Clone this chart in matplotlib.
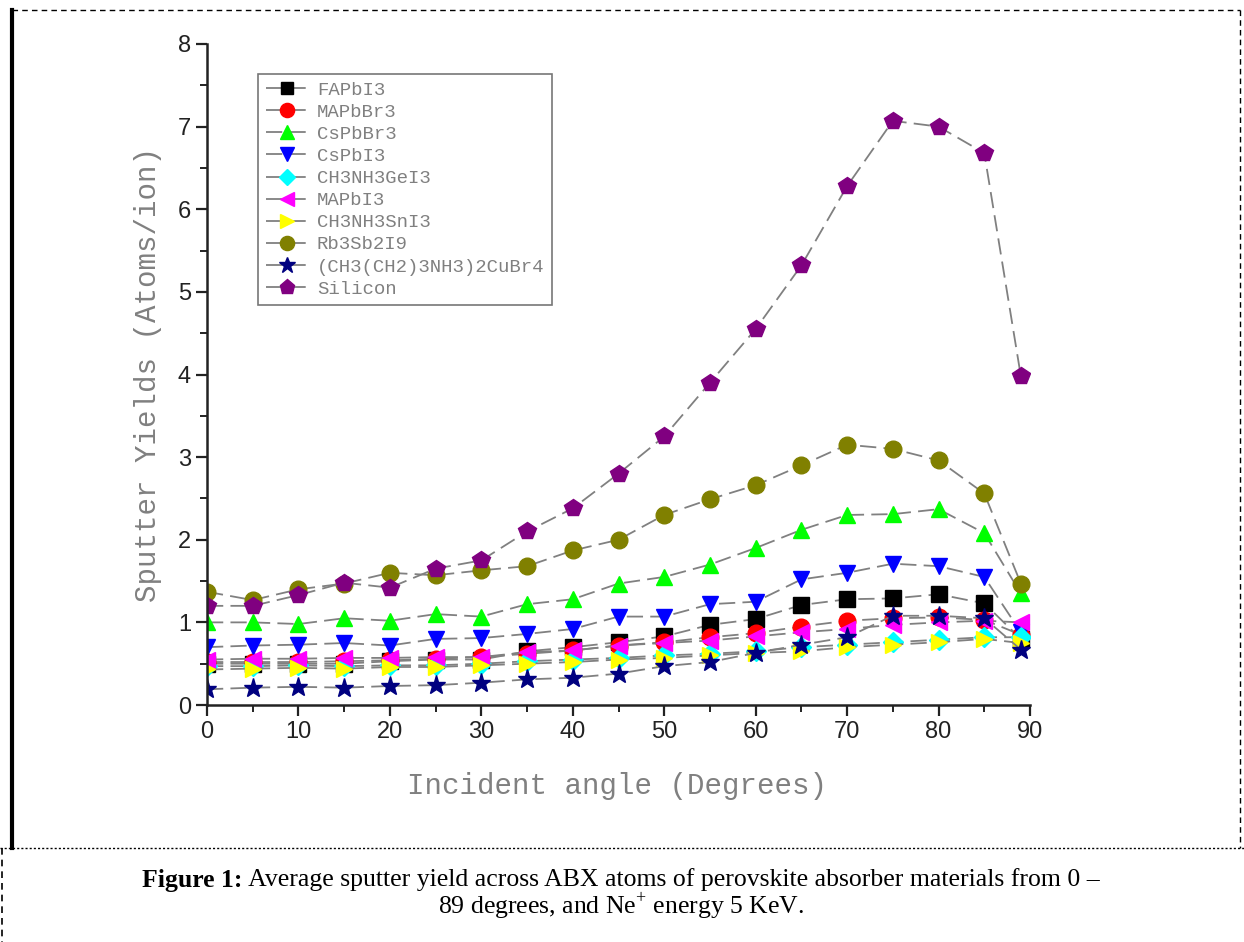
import matplotlib
matplotlib.use("Agg")
import matplotlib.pyplot as plt
from matplotlib.lines import Line2D

angles = [0, 5, 10, 15, 20, 25, 30, 35, 40, 45, 50, 55, 60, 65, 70, 75, 80, 85, 89]

fapbi3 = [0.50, 0.50, 0.50, 0.50, 0.53, 0.55, 0.55, 0.65, 0.70, 0.76, 0.83, 0.97, 1.04, 1.21, 1.28, 1.29, 1.34, 1.23, 0.80]
mapbbr3 = [0.52, 0.52, 0.52, 0.53, 0.54, 0.56, 0.58, 0.62, 0.66, 0.72, 0.76, 0.82, 0.87, 0.95, 1.02, 1.05, 1.06, 1.03, 0.85]
cspbbr3 = [1.00, 1.00, 0.98, 1.05, 1.02, 1.10, 1.07, 1.22, 1.28, 1.47, 1.55, 1.70, 1.90, 2.12, 2.30, 2.31, 2.37, 2.08, 1.35]
cspbi3 = [0.70, 0.72, 0.73, 0.75, 0.72, 0.80, 0.81, 0.86, 0.92, 1.07, 1.07, 1.22, 1.25, 1.52, 1.60, 1.71, 1.68, 1.55, 0.88]
ch3nh3gei3 = [0.47, 0.47, 0.48, 0.47, 0.48, 0.48, 0.50, 0.53, 0.55, 0.57, 0.60, 0.62, 0.65, 0.70, 0.73, 0.76, 0.79, 0.82, 0.82]
mapbi3 = [0.55, 0.56, 0.56, 0.57, 0.57, 0.58, 0.58, 0.64, 0.66, 0.72, 0.75, 0.78, 0.83, 0.88, 0.92, 0.97, 1.00, 1.02, 1.00]
ch3nh3sni3 = [0.43, 0.44, 0.45, 0.44, 0.46, 0.46, 0.48, 0.50, 0.52, 0.55, 0.57, 0.60, 0.63, 0.65, 0.70, 0.73, 0.76, 0.80, 0.75]
rb3sb2i9 = [1.37, 1.27, 1.40, 1.47, 1.60, 1.57, 1.63, 1.68, 1.87, 2.00, 2.30, 2.49, 2.66, 2.90, 3.15, 3.10, 2.96, 2.56, 1.47]
cubr4 = [0.19, 0.21, 0.22, 0.21, 0.23, 0.24, 0.27, 0.31, 0.33, 0.38, 0.47, 0.52, 0.63, 0.73, 0.82, 1.08, 1.08, 1.05, 0.67]
silicon = [1.20, 1.20, 1.33, 1.48, 1.42, 1.65, 1.75, 2.10, 2.38, 2.80, 3.25, 3.90, 4.55, 5.32, 6.28, 7.07, 7.00, 6.68, 3.98]

labels = ["FAPbI3", "MAPbBr3", "CsPbBr3", "CsPbI3", "CH3NH3GeI3", "MAPbI3",
          "CH3NH3SnI3", "Rb3Sb2I9", "(CH3(CH2)3NH3)2CuBr4", "Silicon"]
series = [fapbi3, mapbbr3, cspbbr3, cspbi3, ch3nh3gei3, mapbi3, ch3nh3sni3, rb3sb2i9, cubr4, silicon]
colors = ["#000000", "#ff0000", "#00ff00", "#0000ff", "#00ffff", "#ff00ff",
          "#ffff00", "#808000", "#000080", "#800080"]
markers = ["s", "o", "^", "v", "D", "<", ">", "o", "*", "p"]
msizes = [11, 12, 12, 12, 10, 12, 12, 12, 14, 13]

xticks = [0, 10, 20, 30, 40, 50, 60, 70, 80, 90]
yticks = [0, 1, 2, 3, 4, 5, 6, 7, 8]

caption_bold = "Figure 1:"
caption_rest = " Average sputter yield across ABX atoms of perovskite absorber materials from 0 –"
caption_line2 = r"89 degrees, and Ne$^{+}$ energy 5 KeV."

plt.rcParams['mathtext.fontset'] = 'custom'
plt.rcParams['mathtext.rm'] = 'Liberation Serif'

W, H = 1244, 942
fig = plt.figure(figsize=(W / 100, H / 100), dpi=100)
ax = fig.add_axes([207 / W, 1 - 705 / H, (1030 - 207) / W, (705 - 44) / H])

for vals, lab, col, mk, ms in zip(series, labels, colors, markers, msizes):
    ax.plot(angles, vals, color="#808080", lw=1.3, ls=(0, (9, 4)),
            marker=mk, ms=ms, mfc=col, mec=col, label=lab)

ax.set_xlim(0, 90)
ax.set_ylim(0, 8)
ax.set_xticks(xticks)
ax.set_yticks(yticks)
ax.set_xticks([5, 15, 25, 35, 45, 55, 65, 75, 85], minor=True)
ax.set_yticks([0.5 + i for i in range(8)], minor=True)
ax.spines['top'].set_visible(False)
ax.spines['right'].set_visible(False)
for s in ['left', 'bottom']:
    ax.spines[s].set_linewidth(1.8)
    ax.spines[s].set_color("#222222")
ax.tick_params(which='major', direction='out', length=8, width=1.6, labelsize=17, colors="#222222")
ax.tick_params(which='minor', direction='out', length=5, width=1.4, colors="#222222")
for t in ax.get_xticklabels() + ax.get_yticklabels():
    t.set_fontfamily('Liberation Sans')

ax.set_xlabel("Incident angle (Degrees)", fontfamily='Liberation Mono', fontsize=21, color="#808080")
ax.set_ylabel("Sputter Yields (Atoms/ion)", fontfamily='Liberation Mono', fontsize=21, color="#808080")
ax.xaxis.set_label_coords(0.498, -0.101)
ax.yaxis.set_label_coords(-0.055, 0.5)

leg = ax.legend(loc='upper left', bbox_to_anchor=((258 - 207) / 823, (705 - 74) / 661),
                frameon=True, fancybox=False, prop={'family': 'Liberation Mono', 'size': 13.7},
                handlelength=2.2, handletextpad=0.5, labelspacing=0.25, borderpad=0.4,
                borderaxespad=0, markerscale=0.85)
leg.get_frame().set_edgecolor("#555555")
leg.get_frame().set_linewidth(1.2)
for t in leg.get_texts():
    t.set_color("#808080")

# page frame
def fl(x0, y0, x1, y1, **kw):
    fig.add_artist(Line2D([x0 / W, x1 / W], [1 - y0 / H, 1 - y1 / H], transform=fig.transFigure, **kw))

fl(12, 10, 1240, 10, color='black', lw=1.0, ls=(0, (4, 3)))
fl(12, 10, 12, 848, color='black', lw=3.0)
fl(1240, 10, 1240, 848, color='black', lw=1.0, ls=(0, (4, 3)))
fl(0, 848, 1244, 848, color='black', lw=1.0, ls=(0, (1.5, 1.5)))
fl(2, 848, 2, 942, color='black', lw=1.2, ls=(0, (4, 3)))

# caption line 1: bold prefix + regular rest, centred as a whole
fs = 18.5
renderer = fig.canvas.get_renderer()
tb = fig.text(0, 1 - 880 / H, caption_bold, ha='left', va='center',
              fontfamily='Liberation Serif', fontweight='bold', fontsize=fs)
tr = fig.text(0, 1 - 880 / H, caption_rest, ha='left', va='center',
              fontfamily='Liberation Serif', fontsize=fs)
wb = tb.get_window_extent(renderer).width
wr = tr.get_window_extent(renderer).width
x_start = 621 - (wb + wr) / 2
tb.set_x(x_start / W)
tr.set_x((x_start + wb) / W)
fig.text(621 / W, 1 - 906 / H, caption_line2, ha='center', va='center',
         fontfamily='Liberation Serif', fontsize=fs)

fig.savefig("out.png", dpi=100)
